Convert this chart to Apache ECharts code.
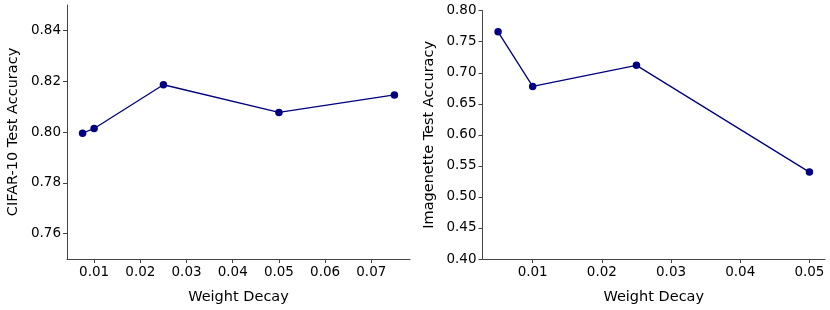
<!DOCTYPE html>
<html><head><meta charset="utf-8">
<script src="https://cdn.jsdelivr.net/npm/echarts@6/dist/echarts.min.js"></script>
<style>html,body{margin:0;padding:0;background:#fff}#c{width:830px;height:310px}</style>
</head><body><div id="c"></div>
<script>
// Left panel: CIFAR-10
const cifarDecay = [0.0075, 0.01, 0.025, 0.05, 0.075];
const cifarAcc = [0.7995, 0.8014, 0.8186, 0.8077, 0.8146];
const cifarXTicks = [0.01, 0.02, 0.03, 0.04, 0.05, 0.06, 0.07];
const cifarYTicks = [0.76, 0.78, 0.80, 0.82, 0.84];
// Right panel: Imagenette
const imgDecay = [0.005, 0.01, 0.025, 0.05];
const imgAcc = [0.766, 0.678, 0.712, 0.540];
const imgXTicks = [0.01, 0.02, 0.03, 0.04, 0.05];
const imgYTicks = [0.40, 0.45, 0.50, 0.55, 0.60, 0.65, 0.70, 0.75, 0.80];

const FONT = 'DejaVu Sans';
const axisCol = '#444';
const lineCol = '#000080';

function xAxis(gridIndex, min, max, ticks) {
  return {
    type: 'value', gridIndex, min, max,
    name: 'Weight Decay', nameLocation: 'middle', nameGap: 31,
    nameTextStyle: {fontFamily: FONT, fontSize: 14.5, color: '#000'},
    axisLine: {show: true, lineStyle: {color: axisCol, width: 1}},
    axisTick: {show: true, length: 4, customValues: ticks, lineStyle: {color: axisCol}},
    axisLabel: {customValues: ticks, fontFamily: FONT, fontSize: 13.5, color: '#000', margin: 6,
      formatter: v => (+v.toFixed(4)).toString()},
    splitLine: {show: false}
  };
}
function yAxis(gridIndex, min, max, ticks, name, dec) {
  return {
    type: 'value', gridIndex, min, max, name,
    nameLocation: 'middle', nameGap: 46,
    nameTextStyle: {fontFamily: FONT, fontSize: 14.5, color: '#000'},
    axisLine: {show: true, lineStyle: {color: axisCol, width: 1}},
    axisTick: {show: true, length: 4, customValues: ticks, lineStyle: {color: axisCol}},
    axisLabel: {customValues: ticks, fontFamily: FONT, fontSize: 13.5, color: '#000', margin: 6,
      formatter: v => (+v).toFixed(dec)},
    splitLine: {show: false}
  };
}

const chart = echarts.init(document.getElementById('c'), null, {renderer: 'canvas'});
chart.setOption({
  animation: false,
  backgroundColor: '#fff',
  grid: [
    {left: 67, top: 5, right: 420, bottom: 51},
    {left: 482.5, top: 10.7, right: 5, bottom: 51}
  ],
  xAxis: [
    xAxis(0, 0.004125, 0.078375, cifarXTicks),
    xAxis(1, 0.00275, 0.05225, imgXTicks)
  ],
  yAxis: [
    yAxis(0, 0.75, 0.85, cifarYTicks, 'CIFAR-10 Test Accuracy', 2),
    yAxis(1, 0.40, 0.80, imgYTicks, 'Imagenette Test Accuracy', 2)
  ],
  series: [
    {type: 'line', xAxisIndex: 0, yAxisIndex: 0,
     data: cifarDecay.map((d, i) => [d, cifarAcc[i]]),
     symbol: 'circle', symbolSize: 7.5, lineStyle: {color: lineCol, width: 1.3},
     itemStyle: {color: lineCol}},
    {type: 'line', xAxisIndex: 1, yAxisIndex: 1,
     data: imgDecay.map((d, i) => [d, imgAcc[i]]),
     symbol: 'circle', symbolSize: 7.5, lineStyle: {color: lineCol, width: 1.3},
     itemStyle: {color: lineCol}}
  ]
});
</script></body></html>
